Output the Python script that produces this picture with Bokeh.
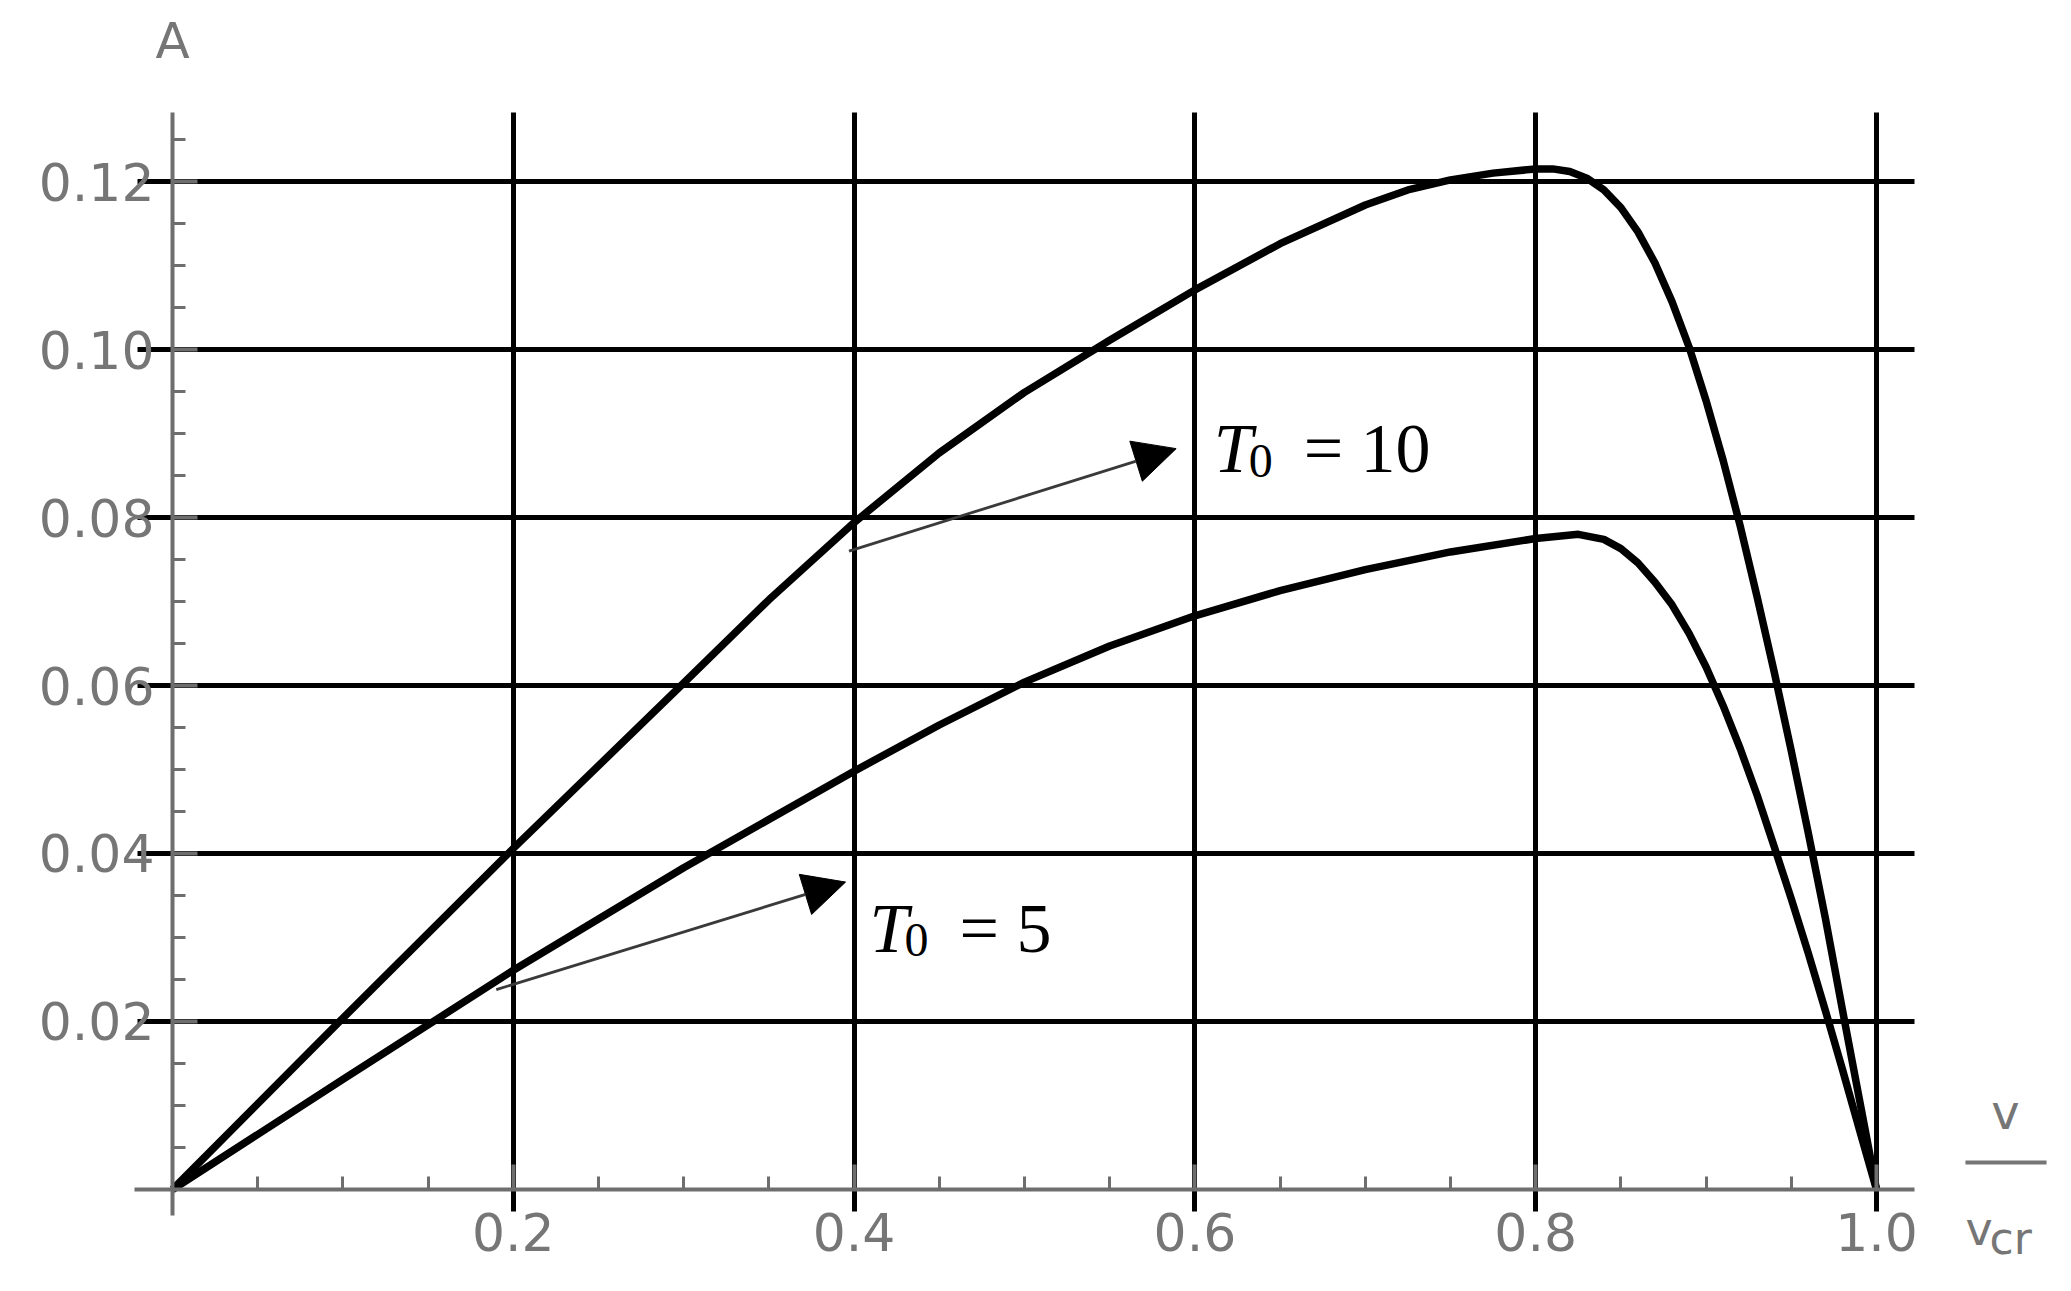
from bokeh.plotting import figure
from bokeh.models import FixedTicker, Label, Arrow, NormalHead, Range1d
from bokeh.embed import file_html
from bokeh.resources import INLINE

# ---------------- data ----------------
v_ratio_T10 = [0.0, 0.1, 0.2, 0.3, 0.35, 0.4, 0.45, 0.5, 0.55, 0.6, 0.65, 0.7,
               0.725, 0.75, 0.775, 0.8, 0.81, 0.82, 0.83, 0.84, 0.85, 0.86,
               0.87, 0.88, 0.89, 0.9, 0.91, 0.92, 0.93, 0.94, 0.95, 0.96,
               0.97, 0.98, 0.99, 1.0]
A_T10 = [0.0, 0.0204, 0.0406, 0.0603, 0.0702, 0.0794, 0.0877, 0.0949, 0.1011,
         0.1071, 0.1126, 0.1172, 0.1190, 0.1202, 0.1210, 0.1215, 0.1215,
         0.1212, 0.1204, 0.1190, 0.1169, 0.1140, 0.1103, 0.1057, 0.1003,
         0.0939, 0.0868, 0.0790, 0.0705, 0.0616, 0.0522, 0.0424, 0.0323,
         0.0214, 0.0107, 0.0]

v_ratio_T5 = [0.0, 0.1, 0.2, 0.3, 0.4, 0.45, 0.5, 0.55, 0.6, 0.65, 0.7, 0.75,
              0.8, 0.825, 0.84, 0.85, 0.86, 0.87, 0.88, 0.89, 0.9, 0.91, 0.92,
              0.93, 0.94, 0.95, 0.96, 0.97, 0.98, 0.99, 1.0]
A_T5 = [0.0, 0.0131, 0.0261, 0.0383, 0.0498, 0.0553, 0.0604, 0.0647, 0.0683,
        0.0713, 0.0738, 0.0759, 0.0775, 0.0780, 0.0774, 0.0763, 0.0746,
        0.0723, 0.0696, 0.0662, 0.0622, 0.0576, 0.0525, 0.0469, 0.0408,
        0.0346, 0.0281, 0.0213, 0.0143, 0.0071, 0.0]

x_ticks = [0.2, 0.4, 0.6, 0.8, 1.0]
x_tick_labels = ["0.2", "0.4", "0.6", "0.8", "1.0"]
y_ticks = [0.02, 0.04, 0.06, 0.08, 0.10, 0.12]
y_tick_labels = ["0.02", "0.04", "0.06", "0.08", "0.10", "0.12"]
x_minor = [round(0.05 * i, 3) for i in range(1, 21) if i % 4]
y_minor = [round(0.005 * i, 4) for i in range(1, 26) if i % 4]

# annotations: (tail x, tail y, tip x, tip y)
arrow_T10 = (0.397, 0.0760, 0.589, 0.0882)
arrow_T5 = (0.190, 0.0238, 0.395, 0.0366)
label_T10 = ("T", "0", "= 10", 0.6110, 0.0882)
label_T5 = ("T", "0", "= 5", 0.4090, 0.0311)

# ---------------- figure ----------------
p = figure(width=2055, height=1275,
           x_range=Range1d(-0.10094, 1.10505), y_range=Range1d(-0.01024, 0.14155),
           output_backend="svg", toolbar_location=None,
           min_border_top=0, min_border_right=0,
           min_border_left=0, min_border_bottom=0)
p.outline_line_color = None
p.background_fill_color = "white"
p.border_fill_color = "white"

axis_gray = "#6e6e6e"
for ax in (p.xaxis[0], p.yaxis[0]):
    ax.fixed_location = 0
    ax.axis_line_color = axis_gray
    ax.axis_line_width = 4
    ax.major_tick_line_color = axis_gray
    ax.major_tick_line_width = 4
    ax.minor_tick_line_color = axis_gray
    ax.minor_tick_line_width = 3
    ax.major_tick_in = 25
    ax.major_tick_out = 0
    ax.minor_tick_in = 13
    ax.minor_tick_out = 0
    ax.major_label_text_font = "DejaVu Sans"
    ax.major_label_text_font_size = "52px"
    ax.major_label_text_color = "#767676"

p.xaxis[0].bounds = (-0.0223, 1.0223)
p.yaxis[0].bounds = (-0.0031, 0.1282)
p.xaxis[0].ticker = FixedTicker(ticks=x_ticks, minor_ticks=x_minor)
p.yaxis[0].ticker = FixedTicker(ticks=y_ticks, minor_ticks=y_minor)
p.xaxis[0].major_label_overrides = dict(zip(x_ticks, x_tick_labels))
p.yaxis[0].major_label_overrides = dict(zip(y_ticks, y_tick_labels))
p.xaxis[0].major_label_standoff = 24
p.yaxis[0].major_label_standoff = 18

for g in (p.xgrid[0], p.ygrid[0]):
    g.grid_line_color = "black"
    g.grid_line_width = 5
p.xgrid[0].ticker = p.xaxis[0].ticker
p.ygrid[0].ticker = p.yaxis[0].ticker
p.xgrid[0].bounds = (0.1, 1.05)
p.ygrid[0].bounds = (0.01, 0.13)
p.xgrid[0].cross_bounds = (-0.0026, 0.1282)
p.ygrid[0].cross_bounds = (-0.0205, 1.0223)

p.line(v_ratio_T10, A_T10, line_color="black", line_width=7.5, line_join="round")
p.line(v_ratio_T5, A_T5, line_color="black", line_width=7.5, line_join="round")

for (x0, y0, x1, y1) in (arrow_T10, arrow_T5):
    p.add_layout(Arrow(x_start=x0, y_start=y0, x_end=x1, y_end=y1,
                       line_color="#3a3a3a", line_width=2.8,
                       end=NormalHead(size=42, fill_color="black", line_color="black")))

serif = "Liberation Serif"
for (t, sub, rest, lx, ly) in (label_T10, label_T5):
    p.add_layout(Label(x=lx, y=ly, text=t, text_font=serif, text_font_style="italic",
                       text_font_size="70px", text_baseline="alphabetic", text_color="black"))
    p.add_layout(Label(x=lx, y=ly, x_offset=35, y_offset=-12, text=sub, text_font=serif,
                       text_font_size="48px", text_baseline="alphabetic", text_color="black"))
    p.add_layout(Label(x=lx, y=ly, x_offset=90, text=rest, text_font=serif,
                       text_font_size="70px", text_baseline="alphabetic", text_color="black"))

# axis titles
p.add_layout(Label(x=0.0, y=0.1367, text="A", text_font="DejaVu Sans",
                   text_font_size="50px", text_color="#767676",
                   text_align="center", text_baseline="middle"))
p.add_layout(Label(x=1.0757, y=0.0092, text="v", text_font="DejaVu Sans",
                   text_font_size="48px", text_color="#767676",
                   text_align="center", text_baseline="middle"))
p.add_layout(Arrow(x_start=1.0522, y_start=0.0032, x_end=1.0998, y_end=0.0032,
                   end=None, line_color="#767676", line_width=4))
p.add_layout(Label(x=1.0522, y=-0.0047, text="v", text_font="DejaVu Sans",
                   text_font_size="46px", text_color="#767676",
                   text_align="left", text_baseline="alphabetic"))
p.add_layout(Label(x=1.0522, y=-0.0047, x_offset=24, y_offset=-10, text="cr",
                   text_font="DejaVu Sans", text_font_size="44px", text_color="#767676",
                   text_align="left", text_baseline="alphabetic"))

open("out.html", "w").write(file_html(p, INLINE))
